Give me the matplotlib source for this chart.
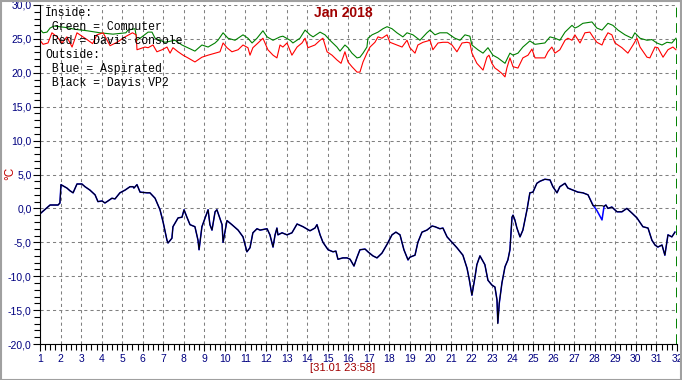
import matplotlib
matplotlib.use("Agg")
import matplotlib.pyplot as plt
from matplotlib.patches import Rectangle
from matplotlib.ticker import MultipleLocator, FuncFormatter

# inside: green = computer, red = Davis console (day of month, degC)
green_day = [1.0, 1.15, 1.34, 1.49, 1.68, 2.22, 2.75, 3.29, 3.92, 4.55, 5.18, 5.28, 5.62, 5.72,
             5.96, 6.26, 6.45, 6.60, 7.08, 7.57, 7.91, 8.40, 8.54, 8.88, 9.18, 9.52, 9.66, 9.91,
             10.15, 10.49, 10.88, 11.12, 11.32, 11.56, 11.85, 12.05, 12.34, 12.68, 12.82, 13.17,
             13.31, 13.65, 13.90, 14.14, 14.29, 14.63, 14.87, 15.11, 15.45, 15.60, 15.84, 15.99,
             16.18, 16.43, 16.57, 16.72, 16.91, 16.96, 17.16, 17.45, 17.69, 17.89, 18.13, 18.37,
             18.66, 18.86, 19.15, 19.49, 19.83, 19.98, 20.22, 20.46, 20.81, 20.95, 21.19, 21.44,
             21.68, 21.92, 22.02, 22.31, 22.56, 22.80, 23.04, 23.28, 23.63, 23.87, 24.02, 24.26,
             24.50, 24.84, 25.09, 25.57, 25.82, 26.06, 26.30, 26.55, 26.89, 27.03, 27.18, 27.42,
             27.86, 28.10, 28.35, 28.64, 28.88, 29.13, 29.47, 29.81, 29.95, 30.20, 30.54, 30.78,
             31.02, 31.27, 31.51, 31.75, 31.95]
green_val = [26.4, 25.9, 26.0, 26.6, 26.9, 26.7, 26.4, 26.2, 25.9, 25.7, 25.9, 26.3, 26.5, 24.8,
             25.3, 26.0, 26.0, 25.1, 24.5, 24.8, 24.1, 23.4, 23.2, 24.1, 23.8, 24.4, 24.8, 25.9,
             25.1, 24.8, 25.6, 25.1, 24.4, 25.1, 26.2, 25.3, 24.8, 25.3, 25.4, 24.8,
             24.4, 25.1, 26.3, 25.6, 25.3, 26.0, 25.6, 24.8, 23.8, 23.2, 24.1, 23.7,
             22.9, 22.2, 22.3, 22.9, 23.8, 25.1, 25.6, 26.0, 26.5, 26.8, 26.5, 25.9,
             25.3, 25.9, 25.6, 24.8, 25.9, 26.3, 25.6, 25.9, 25.9, 25.6, 25.1, 24.8,
             25.6, 25.4, 24.1, 23.4, 22.9, 23.7, 22.6, 22.2, 21.4, 22.9, 22.6, 22.9,
             23.8, 24.7, 24.2, 24.4, 25.3, 25.1, 24.8, 26.0, 27.0, 26.6, 26.8, 27.3,
             27.5, 26.6, 26.3, 27.3, 27.0, 26.3, 25.6, 25.1, 25.9, 25.1, 24.8, 24.9,
             24.4, 24.1, 24.5, 24.4, 25.1]

red_day = [1.0, 1.15, 1.39, 1.58, 1.83, 2.07, 2.31, 2.56, 2.80, 3.04, 3.29, 3.56, 3.77, 4.07,
           4.41, 4.75, 5.14, 5.50, 5.68, 5.72, 6.11, 6.26, 6.50, 6.69, 6.94, 7.18, 7.33, 7.47,
           7.72, 7.96, 8.20, 8.54, 8.88, 9.18, 9.52, 9.76, 9.91, 10.10, 10.34, 10.64, 10.88,
           11.12, 11.22, 11.36, 11.61, 11.85, 12.09, 12.34, 12.53, 12.68, 12.82, 13.02, 13.26,
           13.51, 13.75, 13.90, 14.04, 14.38, 14.63, 14.77, 14.97, 15.21, 15.45, 15.65, 15.84,
           15.99, 16.18, 16.43, 16.57, 16.72, 16.91, 17.06, 17.30, 17.45, 17.64, 17.89, 18.03,
           18.37, 18.62, 18.86, 19.00, 19.25, 19.39, 19.64, 19.98, 20.12, 20.37, 20.61, 20.85,
           21.05, 21.29, 21.54, 21.78, 21.92, 22.02, 22.26, 22.56, 22.75, 22.85, 22.99, 23.14,
           23.28, 23.48, 23.63, 23.72, 23.87, 24.02, 24.26, 24.50, 24.75, 24.94, 25.09, 25.57,
           25.72, 25.91, 26.06, 26.30, 26.55, 26.69, 26.89, 27.03, 27.28, 27.52, 27.76, 27.91,
           28.10, 28.35, 28.49, 28.64, 28.83, 28.98, 29.32, 29.61, 29.86, 30.05, 30.20, 30.54,
           30.68, 30.93, 31.07, 31.32, 31.56, 31.80, 31.95]
red_val = [24.8, 24.2, 24.4, 25.9, 25.3, 24.4, 25.3, 23.8, 25.9, 25.4, 24.9, 24.3, 25.6, 25.9,
           24.0, 24.5, 25.3, 25.9, 25.6, 23.4, 23.8, 23.7, 24.1, 23.1, 23.4, 23.8, 22.9, 23.7,
           23.1, 22.6, 22.2, 21.6, 22.3, 22.6, 22.9, 23.1, 24.4, 23.7, 23.1, 23.4, 24.1,
           23.7, 22.6, 23.7, 24.4, 25.1, 23.4, 22.6, 22.2, 24.1, 23.8, 24.4, 22.6,
           23.8, 24.4, 25.1, 23.7, 24.1, 24.8, 25.1, 23.1, 22.6, 21.9, 21.4, 23.1,
           21.6, 20.9, 20.1, 20.1, 21.6, 22.9, 23.8, 24.5, 25.3, 25.1, 25.6, 24.5,
           24.1, 23.8, 24.8, 23.7, 22.9, 24.1, 24.5, 24.8, 23.4, 24.4, 24.5, 24.5,
           24.1, 23.1, 24.4, 24.5, 24.4, 22.9, 21.4, 20.4, 22.3, 22.6, 21.4, 20.7,
           20.4, 19.9, 19.4, 20.7, 22.2, 20.9, 20.7, 22.2, 22.6, 23.5, 22.2, 22.2,
           23.1, 23.8, 22.9, 23.4, 24.8, 25.1, 24.8, 25.6, 24.4, 25.9, 26.0, 25.3,
           24.5, 24.1, 25.1, 25.9, 25.6, 24.4, 23.7, 22.9, 24.1, 25.1, 23.8, 22.3,
           22.2, 23.8, 23.7, 22.3, 23.4, 23.8, 23.4]

# outside: blue = aspirated, black = Davis VP2
out_day = [1.0, 1.49, 1.88, 1.97, 2.02, 2.31, 2.46, 2.61, 2.80, 3.04, 3.19, 3.43, 3.68, 3.82,
           4.02, 4.16, 4.31, 4.50, 4.65, 4.89, 5.14, 5.38, 5.53, 5.57, 5.72, 5.87, 6.21, 6.35,
           6.60, 6.84, 6.99, 7.18, 7.23, 7.42, 7.47, 7.72, 7.91, 8.01, 8.15, 8.30, 8.54, 8.69,
           8.74, 8.88, 9.18, 9.27, 9.37, 9.52, 9.61, 9.86, 9.91, 10.10, 10.34, 10.64, 10.88,
           11.07, 11.22, 11.36, 11.56, 11.71, 12.05, 12.19, 12.34, 12.44, 12.53, 12.58, 12.78,
           13.02, 13.26, 13.51, 13.80, 14.14, 14.38, 14.48, 14.63, 14.77, 15.02, 15.26, 15.40,
           15.50, 15.74, 15.94, 16.09, 16.28, 16.43, 16.57, 16.82, 16.96, 17.20, 17.40, 17.64,
           17.89, 18.13, 18.32, 18.52, 18.71, 18.91, 19.00, 19.25, 19.39, 19.59, 19.83, 20.08,
           20.22, 20.46, 20.61, 20.81, 21.05, 21.29, 21.58, 21.78, 21.88, 22.02, 22.17, 22.26,
           22.41, 22.65, 22.80, 22.99, 23.14, 23.24, 23.28, 23.35, 23.48, 23.63, 23.77, 23.87,
           23.97, 24.02, 24.11, 24.21, 24.36, 24.50, 24.70, 24.84, 24.99, 25.18, 25.33, 25.57,
           25.82, 25.96, 26.16, 26.30, 26.55, 26.69, 26.94, 27.18, 27.42, 27.67, 27.91, 28.10,
           28.35, 28.45, 28.54, 28.64, 28.83, 29.08, 29.32, 29.56, 29.81, 30.05, 30.34, 30.59,
           30.78, 30.93, 31.07, 31.27, 31.41, 31.56, 31.75, 31.90]
blue_val = [-0.8, 0.5, 0.5, 0.8, 3.5, 3.0, 2.6, 2.3, 3.6, 3.6, 3.2, 2.7, 2.0, 1.0,
            1.1, 0.8, 1.1, 1.5, 1.4, 2.3, 2.7, 3.2, 3.2, 3.0, 3.5, 2.4, 2.3, 2.3,
            1.5, -0.2, -2.0, -4.7, -5.1, -4.4, -2.7, -1.4, -1.3, -0.2, -1.3, -2.4, -2.7, -4.7,
            -6.1, -2.7, -0.2, -2.4, -3.2, -0.5, -0.2, -2.4, -5.0, -1.8, -2.4, -3.2, -4.2,
            -6.4, -5.8, -3.6, -3.0, -3.2, -3.0, -3.9, -5.7, -3.9, -2.9, -3.9, -3.6,
            -3.9, -3.6, -2.3, -2.7, -3.3, -2.9, -2.4, -3.9, -5.0, -6.1, -6.4, -6.3,
            -7.5, -7.3, -7.3, -7.5, -8.5, -7.2, -6.1, -6.0, -6.4, -7.0, -7.3, -6.6,
            -5.3, -3.9, -3.5, -3.9, -6.1, -7.6, -7.2, -6.9, -5.0, -3.5, -3.2, -2.6,
            -2.7, -3.0, -2.9, -4.2, -5.0, -5.8, -6.9, -8.8, -10.3, -12.8, -10.1, -8.3,
            -7.0, -8.3, -10.6, -11.3, -11.6, -13.5, -16.9, -14.0, -11.0, -8.6, -7.6, -6.1,
            -1.3, -1.0, -1.7, -2.9, -4.2, -3.2, -0.2, 2.3, 2.4, 3.7, 4.0, 4.3,
            4.2, 3.2, 2.3, 3.2, 3.7, 3.0, 2.7, 2.4, 2.3, 2.0, 0.5, -0.3,
            -1.7, 0.3, 0.5, 0.0, 0.2, -0.5, -0.5, 0.0, -0.7, -1.4, -2.7, -2.9,
            -4.7, -5.4, -5.7, -5.4, -6.9, -3.9, -4.2, -3.5]
black_val = [-0.8, 0.5, 0.5, 0.8, 3.5, 3.0, 2.6, 2.3, 3.6, 3.6, 3.2, 2.7, 2.0, 1.0,
             1.1, 0.8, 1.1, 1.5, 1.4, 2.3, 2.7, 3.2, 3.2, 3.0, 3.5, 2.4, 2.3, 2.3,
             1.5, -0.2, -2.0, -4.7, -5.1, -4.4, -2.7, -1.4, -1.3, -0.2, -1.3, -2.4, -2.7, -4.7,
             -6.1, -2.7, -0.2, -2.4, -3.2, -0.5, -0.2, -2.4, -5.0, -1.8, -2.4, -3.2, -4.2,
             -6.4, -5.8, -3.6, -3.0, -3.2, -3.0, -3.9, -5.7, -3.9, -2.9, -3.9, -3.6,
             -3.9, -3.6, -2.3, -2.7, -3.3, -2.9, -2.4, -3.9, -5.0, -6.1, -6.4, -6.3,
             -7.5, -7.3, -7.3, -7.5, -8.5, -7.2, -6.1, -6.0, -6.4, -7.0, -7.3, -6.6,
             -5.3, -3.9, -3.5, -3.9, -6.1, -7.6, -7.2, -6.9, -5.0, -3.5, -3.2, -2.6,
             -2.7, -3.0, -2.9, -4.2, -5.0, -5.8, -6.9, -8.8, -10.3, -12.8, -10.1, -8.3,
             -7.0, -8.3, -10.6, -11.3, -11.6, -13.5, -17.0, -14.0, -11.0, -8.6, -7.6, -6.1,
             -1.3, -1.0, -1.7, -2.9, -4.2, -3.2, -0.2, 2.3, 2.4, 3.7, 4.0, 4.3,
             4.2, 3.2, 2.3, 3.2, 3.7, 3.0, 2.7, 2.4, 2.3, 2.0, 0.4, 0.4,
             0.4, 0.3, 0.5, 0.0, 0.2, -0.5, -0.5, 0.0, -0.7, -1.4, -2.7, -2.9,
             -4.7, -5.4, -5.7, -5.4, -6.9, -3.9, -4.2, -3.5]

legend_lines = ["Inside:", " Green = Computer", " Red = Davis console",
                "Outside:", " Blue = Aspirated", " Black = Davis VP2"]

navy = "#000080"
darkred = "#a00000"

fig = plt.figure(figsize=(6.82, 3.80), dpi=100)
ax = fig.add_axes([40 / 682, 1 - 344 / 380, 637 / 682, 339 / 380])

ax.plot(green_day, green_val, color="#008000", lw=0.8)
ax.plot(red_day, red_val, color="#ff0000", lw=0.8)
ax.plot(out_day, blue_val, color="#0000ff", lw=1.1)
ax.plot(out_day, black_val, color="black", lw=0.75)
ax.axvline(32, color="#008000", lw=1.4, ls=(0, (5, 3)))

ax.set_xlim(1, 32)
ax.set_ylim(-20, 30)
ax.xaxis.set_major_locator(MultipleLocator(1))
ax.xaxis.set_minor_locator(MultipleLocator(0.25))
ax.yaxis.set_major_locator(MultipleLocator(5))
ax.yaxis.set_minor_locator(MultipleLocator(1))
ax.yaxis.set_major_formatter(FuncFormatter(lambda v, p: f"{v:.1f}".replace(".", ",")))
ax.xaxis.set_major_formatter(FuncFormatter(lambda v, p: f"{int(v)}"))

ax.grid(True, which="major", color="#808080", ls=(0, (3, 3)), lw=0.75)
for s in ["top", "right"]:
    ax.spines[s].set_visible(False)
for s in ["left", "bottom"]:
    ax.spines[s].set_color("black")
    ax.spines[s].set_linewidth(0.8)

ax.tick_params(axis="both", which="both", direction="out", colors="black",
               labelcolor=navy, labelsize=7.5, width=0.8)
ax.tick_params(axis="y", which="major", length=5, pad=1)
ax.tick_params(axis="y", which="minor", length=4)
ax.tick_params(axis="x", which="major", length=5, pad=2)
ax.tick_params(axis="x", which="minor", length=4)
for lbl in ax.get_xticklabels() + ax.get_yticklabels():
    lbl.set_family("Liberation Sans")

for i, line in enumerate(legend_lines):
    fig.text(45 / 682, 1 - (13 + 14 * i) / 380, line, family="Liberation Mono",
             fontsize=8.3, color="black", va="center", ha="left")

fig.text(343 / 682, 1 - 13 / 380, "Jan 2018", family="Liberation Sans", fontsize=10,
         fontweight="bold", color=darkred, ha="center", va="center")
fig.text(343 / 682, 1 - 368 / 380, "[31.01 23:58]", family="Liberation Sans", fontsize=8,
         color=darkred, ha="center", va="center")
fig.text(10 / 682, 1 - 173 / 380, "°C", family="Liberation Sans", fontsize=8.5,
         color="#c00000", rotation=90, ha="center", va="center")

fig.patches.append(Rectangle((0.001, 0.001), 0.998, 0.997, transform=fig.transFigure,
                             fill=False, edgecolor="#a0a0a0", lw=1.5))

fig.savefig("out.png", dpi=100)
